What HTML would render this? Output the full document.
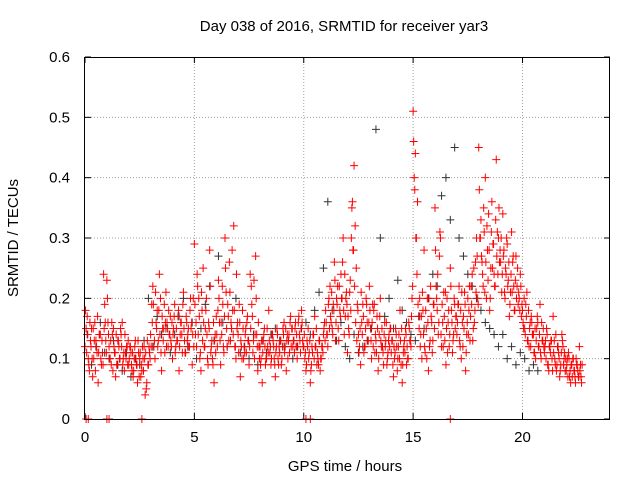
<!DOCTYPE html>
<html><head><meta charset="utf-8"><style>
body{margin:0;background:#fff;}
svg{display:block;font-family:"Liberation Sans",sans-serif;}
</style></head><body>
<svg id="chart" width="640" height="480">
<text x="344" y="31" font-size="15" text-anchor="middle">Day 038 of 2016, SRMTID for receiver yar3</text>
<text x="345" y="471" font-size="15" text-anchor="middle">GPS time / hours</text>
<text transform="translate(18,238) rotate(-90)" font-size="15" text-anchor="middle">SRMTID / TECUs</text>
<g id="grid"></g><g id="axes"></g><g id="marks"></g>
<rect x="84.5" y="57.5" width="525" height="362" fill="none" stroke="#000" stroke-width="1"/>
</svg>
<script>
const xTicks=[0,5,10,15,20];
const yTicks=[0,0.1,0.2,0.3,0.4,0.5,0.6];
const yTickLabels=["0","0.1","0.2","0.3","0.4","0.5","0.6"];
const redStart=0, redStep=0.1;
const redValues=[
0.12,0.17,0.08,0.15,0.10,0.13,0.06,0.14,0.11,0.19,
0.23,0.12,0.09,0.15,0.07,0.13,0.10,0.16,0.08,0.12,
0.09,0.11,0.07,0.13,0.06,0.10,0.08,0.12,0.05,0.09,
0.14,0.22,0.10,0.18,0.24,0.08,0.15,0.21,0.12,0.17,
0.10,0.19,0.13,0.08,0.16,0.21,0.11,0.14,0.18,0.09,
0.29,0.12,0.20,0.08,0.25,0.15,0.10,0.28,0.13,0.06,
0.17,0.23,0.09,0.19,0.30,0.12,0.26,0.15,0.32,0.10,
0.14,0.07,0.18,0.11,0.16,0.09,0.22,0.13,0.27,0.08,
0.12,0.06,0.15,0.10,0.18,0.09,0.13,0.07,0.14,0.11,
0.10,0.16,0.08,0.13,0.17,0.12,0.15,0.10,0.14,0.18,
0.12,0.08,0.15,0.06,0.11,0.17,0.09,0.13,0.10,0.14,
0.18,0.12,0.22,0.15,0.26,0.20,0.13,0.24,0.30,0.17,
0.11,0.21,0.35,0.42,0.25,0.14,0.09,0.19,0.12,0.16,
0.22,0.10,0.18,0.13,0.08,0.20,0.12,0.16,0.09,0.14,
0.11,0.07,0.15,0.10,0.18,0.06,0.13,0.09,0.16,0.12,
0.51,0.44,0.36,0.20,0.10,0.28,0.15,0.08,0.22,0.13,
0.35,0.18,0.27,0.12,0.21,0.09,0.16,0.25,0.11,0.19,
0.14,0.22,0.10,0.17,0.08,0.20,0.13,0.24,0.16,0.30,
0.45,0.33,0.22,0.40,0.28,0.18,0.36,0.24,0.43,0.30,
0.26,0.34,0.20,0.29,0.17,0.31,0.22,0.27,0.19,0.24,
0.18,0.15,0.21,0.12,0.17,0.14,0.10,0.16,0.19,0.13,
0.11,0.15,0.08,0.13,0.17,0.09,0.12,0.07,0.14,0.10,
0.08,0.11,0.06,0.10,0.07,0.09,0.12,0.06];
const redBStart=0.05, redBStep=0.1;
const redBValues=[
0.15,0.10,0.13,0.07,0.16,0.11,0.14,0.09,0.24,0.13,
0.16,0.10,0.14,0.11,0.09,0.12,0.14,0.10,0.11,0.09,
0.12,0.08,0.10,0.09,0.11,0.07,0.10,0.04,0.13,0.11,
0.19,0.12,0.16,0.13,0.20,0.15,0.11,0.16,0.14,0.12,
0.15,0.12,0.17,0.14,0.11,0.13,0.16,0.12,0.15,0.20,
0.14,0.22,0.10,0.18,0.12,0.20,0.16,0.11,0.09,0.14,
0.12,0.16,0.14,0.11,0.21,0.17,0.13,0.18,0.12,0.15,
0.19,0.12,0.10,0.15,0.13,0.24,0.17,0.10,0.14,0.12,
0.10,0.13,0.09,0.12,0.11,0.14,0.10,0.12,0.09,0.13,
0.15,0.12,0.14,0.11,0.15,0.13,0.12,0.16,0.11,0.13,
0.10,0.13,0.11,0.09,0.14,0.12,0.10,0.08,0.12,0.16,
0.14,0.20,0.16,0.19,0.13,0.22,0.18,0.20,0.14,0.21,
0.15,0.18,0.28,0.32,0.19,0.12,0.16,0.11,0.20,0.13,
0.15,0.19,0.11,0.17,0.14,0.12,0.09,0.13,0.11,0.15,
0.13,0.10,0.12,0.14,0.09,0.11,0.15,0.10,0.13,0.20,
0.40,0.30,0.17,0.14,0.18,0.11,0.20,0.12,0.16,0.19,
0.22,0.14,0.30,0.16,0.13,0.20,0.12,0.18,0.14,0.17,
0.19,0.12,0.16,0.21,0.14,0.18,0.22,0.15,0.26,0.20,
0.30,0.26,0.31,0.20,0.34,0.25,0.29,0.22,0.31,0.26,
0.21,0.28,0.24,0.23,0.21,0.26,0.18,0.22,0.20,0.17,
0.15,0.19,0.13,0.16,0.14,0.11,0.15,0.12,0.10,0.15,
0.13,0.09,0.12,0.10,0.13,0.08,0.11,0.09,0.12,0.08,
0.10,0.07,0.09,0.08,0.10,0.07,0.09];
const redCStart=0.025, redCStep=0.05;
const redCValues=[
0.18,0.11,0.14,0.09,0.16,0.12,0.10,0.15,0.13,0.08,0.12,0.17,0.11,0.14,0.10,0.13,0.09,0.15,0.16,0.11,
0.20,0.14,0.10,0.13,0.16,0.08,0.12,0.11,0.14,0.09,0.13,0.10,0.15,0.12,0.09,0.11,0.14,0.10,0.12,0.13,
0.10,0.12,0.09,0.11,0.08,0.12,0.10,0.09,0.13,0.07,0.11,0.09,0.12,0.08,0.10,0.11,0.06,0.09,0.12,0.10,
0.12,0.16,0.19,0.13,0.21,0.15,0.12,0.18,0.14,0.11,0.17,0.13,0.19,0.16,0.12,0.15,0.18,0.14,0.13,0.16,
0.14,0.17,0.11,0.15,0.13,0.18,0.12,0.16,0.14,0.19,0.15,0.11,0.17,0.13,0.15,0.12,0.20,0.16,0.14,0.12,
0.19,0.16,0.24,0.14,0.17,0.11,0.21,0.13,0.16,0.12,0.18,0.14,0.09,0.15,0.22,0.12,0.10,0.16,0.13,0.11,
0.14,0.18,0.20,0.13,0.16,0.22,0.12,0.17,0.25,0.15,0.19,0.13,0.21,0.16,0.28,0.14,0.18,0.12,0.24,0.16,
0.11,0.16,0.13,0.10,0.15,0.12,0.14,0.11,0.17,0.13,0.12,0.15,0.19,0.11,0.23,0.14,0.20,0.12,0.16,0.10,
0.09,0.13,0.11,0.14,0.12,0.10,0.15,0.11,0.13,0.12,0.10,0.14,0.12,0.09,0.11,0.15,0.10,0.12,0.13,0.09,
0.12,0.14,0.11,0.15,0.13,0.10,0.14,0.16,0.12,0.15,0.13,0.11,0.16,0.14,0.12,0.17,0.13,0.15,0.16,0.12,
0.14,0.11,0.09,0.12,0.10,0.13,0.08,0.12,0.14,0.10,0.12,0.15,0.11,0.09,0.13,0.10,0.12,0.11,0.15,0.13,
0.16,0.14,0.19,0.15,0.17,0.21,0.14,0.18,0.23,0.16,0.19,0.15,0.22,0.17,0.20,0.26,0.18,0.24,0.20,0.19,
0.17,0.14,0.23,0.30,0.36,0.28,0.22,0.16,0.13,0.18,0.11,0.15,0.21,0.14,0.17,0.12,0.15,0.19,0.13,0.16,
0.18,0.13,0.16,0.12,0.19,0.14,0.11,0.15,0.10,0.17,0.13,0.15,0.11,0.14,0.12,0.16,0.10,0.13,0.12,0.15,
0.13,0.09,0.12,0.11,0.14,0.08,0.12,0.10,0.13,0.15,0.09,0.12,0.11,0.14,0.12,0.10,0.15,0.13,0.17,0.22,
0.46,0.38,0.30,0.24,0.19,0.15,0.12,0.17,0.21,0.14,0.12,0.18,0.10,0.16,0.20,0.13,0.17,0.11,0.19,0.15,
0.28,0.20,0.24,0.16,0.31,0.14,0.19,0.12,0.17,0.21,0.15,0.11,0.18,0.14,0.22,0.16,0.13,0.20,0.15,0.17,
0.16,0.19,0.13,0.18,0.21,0.12,0.15,0.19,0.11,0.16,0.14,0.22,0.17,0.19,0.13,0.25,0.18,0.21,0.27,0.19,
0.38,0.30,0.27,0.24,0.35,0.21,0.26,0.32,0.23,0.28,0.20,0.31,0.25,0.29,0.22,0.33,0.27,0.24,0.35,0.28,
0.30,0.24,0.27,0.21,0.25,0.30,0.22,0.26,0.19,0.24,0.21,0.27,0.18,0.23,0.20,0.25,0.21,0.18,0.22,0.19,
0.16,0.20,0.14,0.17,0.13,0.18,0.15,0.12,0.16,0.14,0.11,0.15,0.13,0.17,0.12,0.14,0.11,0.16,0.13,0.12,
0.12,0.10,0.14,0.09,0.12,0.11,0.13,0.08,0.11,0.10,0.14,0.09,0.12,0.10,0.08,0.11,0.13,0.09,0.11,0.10,
0.09,0.07,0.10,0.08,0.09,0.07,0.10,0.08,0.06,0.09,0.08,0.07,0.08,0.07,0.09];
const blackStart=0.1, blackStep=0.2;
const blackValues=[
0.14,0.09,0.12,0.16,0.11,0.10,0.13,0.09,0.08,0.11,0.07,0.10,0.09,
0.13,0.20,0.12,0.17,0.14,0.15,0.11,0.14,0.17,0.20,0.12,0.16,0.10,
0.15,0.19,0.22,0.13,0.27,0.16,0.12,0.15,0.20,0.11,0.12,0.10,0.14,
0.09,0.13,0.11,0.14,0.15,0.13,0.12,0.13,0.10,0.12,0.15,0.16,0.14,
0.18,0.21,0.25,0.36,0.18,0.13,0.16,0.12,0.10,0.14,0.11,0.12,0.13,
0.15,0.48,0.30,0.17,0.20,0.15,0.23,0.18,0.16,0.14,0.13,0.17,0.15,
0.20,0.24,0.22,0.37,0.40,0.33,0.45,0.30,0.27,0.24,0.22,0.20,0.18,
0.16,0.15,0.14,0.12,0.14,0.10,0.12,0.09,0.11,0.10,0.08,0.09,0.08];
const zeroTimes=[0.05,0.15,1.0,1.1,2.6,10.1,10.3,16.7];

const X0=85,X1=610,Y0=419,Y1=57,XMAX=24,YMAX=0.6;
function xs(v){return X0+(v/XMAX)*(X1-X0);}
function ys(v){return Y0-(v/YMAX)*(Y0-Y1);}
const NS="http://www.w3.org/2000/svg";
function mk(tag,attrs,parent){const e=document.createElementNS(NS,tag);for(const k in attrs)e.setAttribute(k,attrs[k]);parent.appendChild(e);return e;}
const grid=document.getElementById('grid'),axes=document.getElementById('axes'),marks=document.getElementById('marks');
xTicks.forEach(t=>{
  const x=xs(t);
  if(t>0){const g=mk('line',{x1:x,y1:Y0,x2:x,y2:Y1,stroke:'#a0a0a0','stroke-dasharray':'1,2'},grid);
  
  }
  mk('line',{x1:x,y1:Y0,x2:x,y2:Y0-6,stroke:'#000'},axes);
  mk('line',{x1:x,y1:Y1,x2:x,y2:Y1+6,stroke:'#000'},axes);
  const l=mk('text',{x:x,y:Y0+23,'font-size':15,'text-anchor':'middle'},axes);l.textContent=t;
  
  
});
yTicks.forEach((t,i)=>{
  const y=ys(t);
  if(t>0&&t<YMAX){const g=mk('line',{x1:X0,y1:y,x2:X1,y2:y,stroke:'#a0a0a0','stroke-dasharray':'1,2'},grid);
  
  }
  mk('line',{x1:X0,y1:y,x2:X0+6,y2:y,stroke:'#000'},axes);
  mk('line',{x1:X1,y1:y,x2:X1-6,y2:y,stroke:'#000'},axes);
  const l=mk('text',{x:70,y:y+5,'font-size':15,'text-anchor':'end'},axes);l.textContent=yTickLabels[i];
  
  
});
function plus(t,v,color,name){
  const x=xs(t),y=ys(v);
  const p=mk('path',{d:`M${x-4},${y}h8M${x},${y-4}v8`,stroke:color,'stroke-width':1,fill:'none'},marks);
  
  
}
blackValues.forEach((v,i)=>plus(blackStart+i*blackStep,v,'#333','point-black'));
redValues.forEach((v,i)=>plus(redStart+i*redStep,v,'#ff0000','point-red'));
redBValues.forEach((v,i)=>plus(redBStart+i*redBStep,v,'#ff0000','point-red'));
redCValues.forEach((v,i)=>plus(redCStart+i*redCStep,v,'#ff0000','point-red'));
zeroTimes.forEach(t=>plus(t,0,'#ff0000','point-red-zero'));
</script>
</body></html>
